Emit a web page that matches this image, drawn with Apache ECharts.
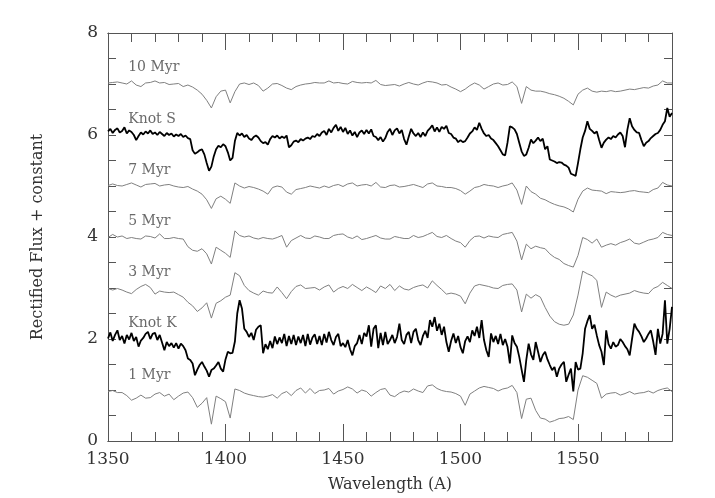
<!DOCTYPE html>
<html>
<head>
<meta charset="utf-8">
<script src="https://cdn.jsdelivr.net/npm/echarts@6/dist/echarts.min.js"></script>
<style>
html,body{margin:0;padding:0;background:#fff;}
#chart{width:715px;height:498px;}
</style>
</head>
<body>
<div id="chart"></div>
<script>
// Wavelength grids: model spectra every 2 A, knot spectra every 1 A, from 1350 A
const modelStart = 1350, modelStep = 2;
const knotStart = 1350, knotStep = 1;

const myr10 = [
7.02,7.03,7.04,7.02,7.00,7.06,6.98,6.95,7.02,7.03,
7.06,7.02,7.03,6.99,7.00,7.01,6.95,6.98,6.94,6.88,
6.80,6.68,6.53,6.75,6.86,6.88,6.63,6.85,7.00,7.02,
6.99,7.02,6.97,6.86,6.92,7.00,7.01,6.97,6.92,6.89,
6.95,6.98,7.00,7.01,7.03,7.02,7.02,7.06,7.02,7.03,
7.01,7.00,7.05,7.03,7.02,7.03,7.02,7.07,6.99,6.97,
6.98,6.99,6.96,7.00,7.03,7.00,6.98,7.02,7.05,7.04,
7.02,6.98,6.99,6.94,6.90,6.85,6.90,6.97,7.02,6.98,
6.90,6.95,7.00,7.02,6.98,6.99,7.04,6.95,6.62,6.95,
6.88,6.86,6.86,6.84,6.81,6.79,6.76,6.72,6.66,6.59,
6.80,6.88,6.92,6.86,6.84,6.86,6.85,6.87,6.85,6.86,
6.88,6.90,6.89,6.91,6.93,6.92,6.96,6.98,7.06,7.02,
7.02];

const myr7 = [
5.01,5.04,5.01,5.00,5.03,5.06,5.02,4.98,5.03,5.04,
5.05,5.00,5.02,5.03,5.00,4.98,4.97,4.99,4.94,4.90,
4.84,4.73,4.56,4.75,4.80,4.74,4.66,5.06,5.00,4.96,
4.99,4.97,4.94,4.90,4.84,4.97,5.00,4.98,4.88,4.84,
4.93,4.95,4.97,5.00,4.98,4.96,5.00,4.97,5.01,5.03,
4.99,5.04,5.06,5.00,5.02,5.03,5.00,5.07,4.98,4.97,
5.01,5.02,4.98,4.99,5.01,5.03,5.00,4.97,5.04,5.06,
5.00,4.99,4.97,4.97,4.95,4.91,4.84,4.90,4.97,4.99,
5.03,5.01,5.00,4.97,5.00,5.02,5.06,4.92,4.64,5.00,
4.89,4.84,4.76,4.73,4.68,4.64,4.61,4.59,4.55,4.49,
4.74,4.90,4.96,4.92,4.91,4.90,4.85,4.89,4.88,4.87,
4.88,4.90,4.91,4.89,4.88,4.87,4.93,4.96,5.07,5.02,
5.00];

const myr5 = [
3.99,4.05,4.00,4.02,3.97,3.99,3.97,3.96,4.02,4.01,
3.98,4.06,3.97,3.97,3.99,3.97,3.96,3.81,3.74,3.72,
3.77,3.67,3.47,3.80,3.74,3.68,3.60,4.12,4.03,4.00,
4.02,3.98,3.96,3.99,3.97,3.96,3.99,4.03,3.80,3.93,
3.98,4.03,3.98,3.97,4.02,4.00,3.97,3.97,4.03,4.05,
4.06,4.00,3.97,4.02,3.95,3.97,4.00,4.03,3.98,3.96,
3.96,4.01,3.99,3.97,3.97,4.03,3.99,4.01,4.05,4.09,
4.01,3.99,4.03,3.97,3.92,3.89,3.80,3.93,4.01,4.02,
3.98,4.02,4.00,3.99,4.05,4.07,4.09,3.92,3.55,3.86,
3.77,3.82,3.79,3.77,3.67,3.60,3.56,3.48,3.44,3.41,
3.64,3.99,3.95,3.88,3.96,3.80,3.84,3.87,3.84,3.89,
3.92,3.96,3.88,3.86,3.90,3.94,3.96,3.99,4.09,4.05,
4.03];

const myr3 = [
2.99,2.96,2.99,2.96,2.92,2.89,2.97,3.03,3.07,3.01,
2.88,2.94,2.92,2.91,2.92,2.87,2.82,2.72,2.65,2.54,
2.61,2.71,2.41,2.70,2.75,2.82,2.86,3.30,3.24,3.05,
2.95,2.90,2.86,2.94,2.91,2.90,3.02,2.91,2.79,2.93,
3.03,3.06,2.99,3.00,3.01,2.96,3.02,3.06,2.92,2.99,
3.03,2.99,3.07,3.01,2.95,3.02,2.97,2.91,3.04,2.99,
3.07,2.95,3.04,2.98,2.96,3.01,3.04,3.06,3.00,3.14,
3.05,2.97,2.88,2.90,2.88,2.84,2.69,2.90,3.04,3.07,
3.05,3.03,3.00,2.99,3.05,3.07,3.08,2.96,2.53,2.88,
2.80,2.87,2.82,2.62,2.45,2.34,2.29,2.27,2.29,2.47,
2.86,3.33,3.28,3.24,3.15,2.62,2.92,2.86,2.82,2.86,
2.88,2.90,2.95,2.92,2.90,2.89,2.99,3.03,3.11,3.05,
2.99];

const myr1 = [
0.97,0.99,0.95,0.95,0.89,0.80,0.84,0.90,0.84,0.85,
0.92,0.95,0.88,0.92,0.81,0.88,0.94,0.96,0.85,0.66,
0.74,0.85,0.33,0.88,0.83,0.77,0.45,1.02,0.99,0.94,
0.91,0.89,0.87,0.86,0.88,0.91,0.84,0.93,0.97,0.89,
0.99,1.04,0.94,1.03,0.93,0.99,1.00,1.03,0.92,0.98,
1.01,1.06,1.02,0.94,1.00,0.97,0.88,0.95,1.01,1.03,
0.90,0.87,0.94,0.98,0.96,1.02,0.98,0.95,1.08,1.10,
1.03,0.99,0.97,0.96,0.93,0.88,0.70,0.92,0.98,1.04,
1.07,1.05,1.03,0.98,1.02,1.04,1.09,0.95,0.44,0.82,
0.84,0.60,0.45,0.43,0.37,0.40,0.44,0.45,0.48,0.42,
1.00,1.28,1.25,1.19,1.13,0.84,0.92,0.94,0.95,0.90,
0.93,0.97,0.92,0.94,0.95,0.98,0.94,0.99,1.02,1.04,
0.97];

const knotS = [
6.07,6.12,6.04,6.10,6.13,6.05,6.08,6.15,6.03,6.09,
6.06,6.00,5.90,5.98,6.05,6.01,6.07,6.03,6.09,6.02,
6.05,6.00,6.06,6.02,5.98,6.04,6.00,6.03,5.97,6.01,
5.98,6.02,5.96,5.99,5.94,5.92,5.70,5.63,5.66,5.70,
5.72,5.62,5.45,5.30,5.38,5.58,5.72,5.79,5.76,5.82,
5.78,5.66,5.50,5.55,5.88,6.04,5.99,6.03,5.96,6.00,
5.93,5.90,5.96,5.99,5.95,5.88,5.84,5.86,5.81,5.92,
5.98,5.95,5.99,5.93,5.97,5.94,5.99,5.76,5.80,5.87,
5.89,5.86,5.92,5.89,5.93,5.95,5.92,5.98,5.96,6.02,
5.98,6.05,6.08,6.00,6.12,6.05,6.14,6.20,6.08,6.16,
6.06,6.14,6.02,6.09,5.99,6.06,5.96,6.05,6.09,6.02,
6.10,6.03,6.11,5.98,5.96,5.90,5.96,5.87,5.94,6.06,
6.12,6.00,6.09,6.13,6.03,6.10,5.92,5.81,5.97,6.12,
6.03,5.98,6.04,5.96,6.05,5.98,6.08,6.13,6.19,6.07,
6.15,6.06,6.16,6.12,6.18,6.04,6.02,5.95,5.93,5.86,
5.90,5.86,5.88,5.95,6.03,6.07,6.15,6.10,6.24,6.12,
6.03,5.98,6.00,5.93,5.90,5.84,5.78,5.70,5.62,5.60,
5.85,6.17,6.15,6.11,6.02,5.85,5.68,5.59,5.62,5.75,
5.91,5.84,5.89,5.95,5.88,5.93,5.72,5.78,5.52,5.50,
5.48,5.45,5.47,5.46,5.42,5.40,5.36,5.24,5.22,5.20,
5.45,5.72,5.95,6.08,6.27,6.12,6.08,6.03,6.07,5.90,
5.75,5.85,5.91,5.95,5.92,5.98,5.95,6.01,6.05,5.98,
5.76,6.10,6.33,6.17,6.10,6.05,6.04,5.90,5.78,5.85,
5.88,5.94,5.98,6.02,6.04,6.10,6.20,6.27,6.53,6.36,
6.43];

const knotK = [
2.01,2.13,1.96,2.08,2.17,1.98,2.06,1.91,2.08,1.99,
2.12,1.96,2.04,1.85,1.97,2.02,2.10,2.14,2.00,2.10,
2.12,1.98,2.08,1.93,1.78,1.94,1.86,1.92,1.83,1.92,
1.81,1.91,1.86,1.78,1.62,1.59,1.52,1.29,1.40,1.49,
1.55,1.46,1.38,1.26,1.39,1.42,1.48,1.55,1.42,1.36,
1.60,1.75,1.72,1.73,1.95,2.50,2.76,2.60,2.20,2.14,
2.04,2.12,1.98,2.18,2.24,2.27,1.72,1.90,1.80,1.96,
1.82,2.05,1.90,2.03,1.92,2.10,1.86,2.06,1.90,2.08,
1.88,2.05,1.92,2.08,1.86,2.10,1.89,2.03,2.09,1.90,
2.06,1.88,2.10,1.93,2.14,1.98,1.88,2.04,2.10,1.86,
1.92,1.84,1.98,1.80,1.68,1.86,1.92,2.08,1.90,2.12,
2.05,2.27,1.85,2.20,2.27,1.82,2.12,1.88,2.14,1.90,
1.98,2.08,1.92,2.04,2.30,1.98,1.90,2.08,2.14,1.92,
2.14,2.20,1.98,1.88,2.06,2.16,2.02,2.37,2.24,2.43,
2.16,2.30,2.08,2.24,1.94,1.75,1.96,2.11,1.92,2.06,
1.84,1.72,1.96,2.05,1.94,2.17,2.06,2.24,2.02,2.37,
1.98,1.78,1.65,2.11,1.94,2.06,1.90,2.10,1.88,2.00,
1.85,1.52,2.07,1.92,1.85,1.65,1.40,1.16,1.59,1.91,
1.70,1.59,1.94,1.75,1.55,1.68,1.75,1.60,1.49,1.39,
1.45,1.26,1.42,1.50,1.55,1.16,1.30,1.42,0.97,1.55,
1.40,1.42,1.72,2.20,2.35,2.47,2.20,2.28,2.07,1.88,
1.75,1.49,2.17,1.90,1.81,1.94,1.85,1.88,2.00,1.94,
1.86,1.80,1.68,2.00,2.30,2.20,2.14,2.05,1.94,2.01,
2.10,2.17,1.95,1.69,2.20,1.91,2.10,2.76,1.91,2.20,
2.63];

const labelNames = ['10 Myr','Knot S','7 Myr','5 Myr','3 Myr','Knot K','1 Myr'];
const labelX = [1358.6,1358.6,1358.6,1358.6,1358.6,1358.6,1358.6];
const labelY = [7.32,6.30,5.31,4.30,3.30,2.30,1.29];

const xTicksMajor = 50, xTicksMinor = 10;
const yTickLabels = [0,2,4,6,8];

function pairs(vals, start, step){
  return vals.map((v,i)=>[start+i*step, v]);
}

const FONT = 'DejaVu Serif';
const AX = '#555';
const chart = echarts.init(document.getElementById('chart'), null, {renderer:'canvas'});

function xAxisDef(pos, interval, len, labels){
  return {
    type:'value', position:pos, min:1350, max:1590, interval:interval,
    axisLine:{show:true, onZero:false, lineStyle:{color:AX, width:1}},
    axisTick:{show:true, inside:true, length:len, lineStyle:{color:AX, width:1}},
    axisLabel:{show:labels, margin:10, color:'#333', fontFamily:FONT, fontSize:17,
      formatter:v => (v % 50 === 0 ? String(v) : '')},
    splitLine:{show:false},
    name: labels ? 'Wavelength (A)' : '',
    nameLocation:'middle', nameGap:36,
    nameTextStyle:{color:'#333', fontFamily:FONT, fontSize:16}
  };
}
function yAxisDef(pos, labels){
  return {
    type:'value', position:pos, min:0, max:8, interval:2,
    axisLine:{show:true, onZero:false, lineStyle:{color:AX, width:1}},
    axisTick:{show:true, inside:true, length:8, lineStyle:{color:AX, width:1}},
    minorTick:{show:true, splitNumber:4, length:8, lineStyle:{color:AX, width:1}},
    axisLabel:{show:labels, margin:10, color:'#333', fontFamily:FONT, fontSize:17,
      formatter:v => (yTickLabels.indexOf(v) >= 0 ? String(v) : '')},
    splitLine:{show:false},
    name: labels ? 'Rectified Flux + constant' : '',
    nameLocation:'middle', nameGap:62, nameRotate:90,
    nameTextStyle:{color:'#333', fontFamily:FONT, fontSize:16}
  };
}

const thin = {color:'#808080', width:1};
const thick = {color:'#000', width:1.8};
function lineSeries(name, data, style){
  return {name:name, type:'line', xAxisIndex:0, yAxisIndex:0, data:data,
    showSymbol:false, symbol:'none', lineStyle:style, silent:true, z:style.width>1?3:2};
}

const labelData = labelNames.map((n,i)=>[labelX[i], labelY[i], n]);

chart.setOption({
  animation:false,
  backgroundColor:'#fff',
  grid:{left:108, right:43, top:33, bottom:55, containLabel:false},
  xAxis:[
    xAxisDef('bottom', xTicksMajor, 17, true),
    xAxisDef('bottom', xTicksMinor, 9, false),
    xAxisDef('top', xTicksMajor, 17, false),
    xAxisDef('top', xTicksMinor, 9, false)
  ],
  yAxis:[ yAxisDef('left', true), yAxisDef('right', false) ],
  series:[
    lineSeries('10 Myr', pairs(myr10, modelStart, modelStep), thin),
    lineSeries('7 Myr', pairs(myr7, modelStart, modelStep), thin),
    lineSeries('5 Myr', pairs(myr5, modelStart, modelStep), thin),
    lineSeries('3 Myr', pairs(myr3, modelStart, modelStep), thin),
    lineSeries('1 Myr', pairs(myr1, modelStart, modelStep), thin),
    lineSeries('Knot S', pairs(knotS, knotStart, knotStep), thick),
    lineSeries('Knot K', pairs(knotK, knotStart, knotStep), thick),
    {
      type:'scatter', xAxisIndex:0, yAxisIndex:0, data:labelData,
      symbolSize:0, silent:true,
      label:{show:true, position:'right', distance:0,
        formatter:p => p.data[2], color:'#444', fontFamily:FONT, fontSize:14}
    }
  ]
});
</script>
</body>
</html>
